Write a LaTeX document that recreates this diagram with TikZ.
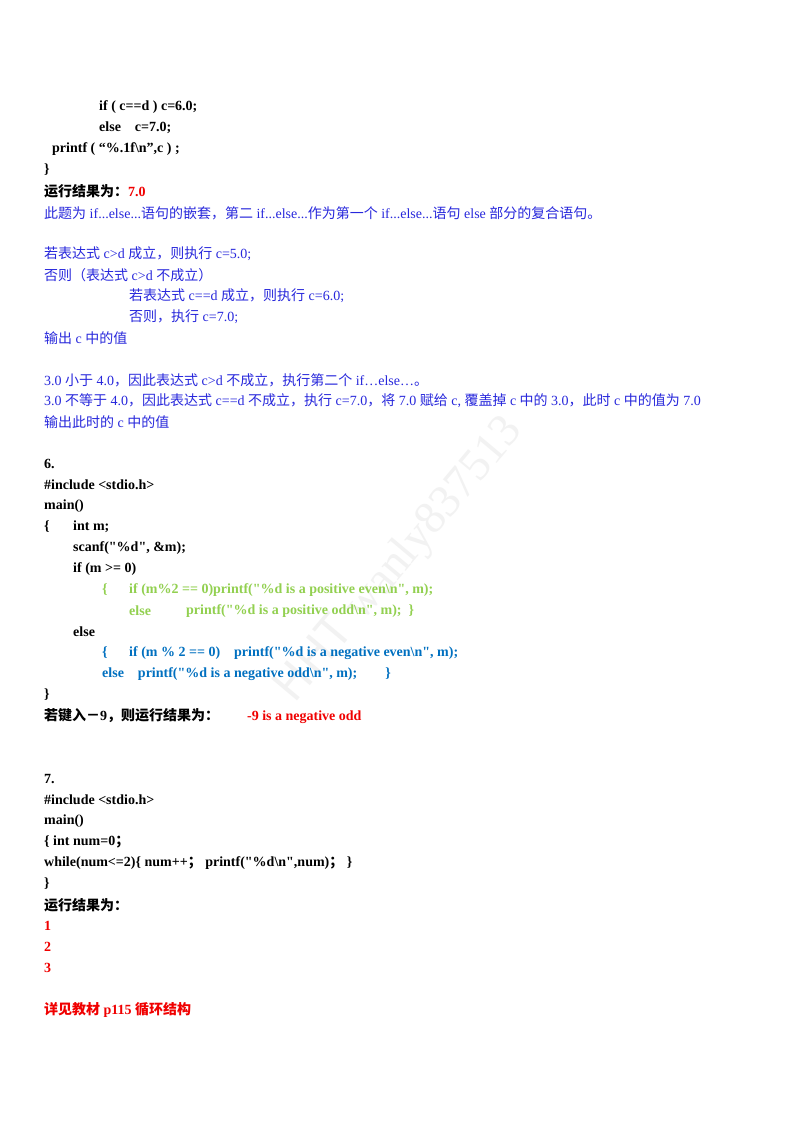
\documentclass[tikz,border=0pt]{standalone}
\usepackage{fontspec}
\setmainfont{Liberation Serif}
\newfontfamily\cjk{Noto Sans CJK SC}
\definecolor{tblue}{RGB}{40,40,220}
\definecolor{tgreen}{RGB}{146,208,80}
\definecolor{cblue}{RGB}{0,112,192}
\definecolor{tred}{RGB}{240,0,0}
\newcommand{\zh}[1]{{\cjk #1}}
\newcommand{\q}{\textquotedbl}
\begin{document}
\begin{tikzpicture}[x=1pt,y=-1pt,
  ln/.style={anchor=west,inner sep=0pt,font=\fontsize{14}{16}\selectfont\bfseries},
  bl/.style={anchor=west,inner sep=0pt,font=\fontsize{14}{16}\selectfont,text=tblue}]
\useasboundingbox (0,0) rectangle (800,1132);
\fill[white] (0,0) rectangle (800,1132);
\node[rotate=50,text=black!5,font=\fontsize{46}{50}\selectfont] (wm) at (400,560) {\zh{HHT} wanly837513};
\node[ln] (a1) at (99,107) {if ( c==d ) c=6.0;};
\node[ln] (a2) at (99,128) {else\quad c=7.0;};
\node[ln] (a3) at (52,149) {printf ( “\%.1f\textbackslash n”,c ) ;};
\node[ln] (a4) at (44,170) {\}};
\node[ln] (a5) at (44,191) {\zh{运行结果为：}\textcolor{tred}{7.0}};
\node[bl] (b1) at (44,213) {\zh{此题为} if...else...\zh{语句的嵌套，第二} if...else...\zh{作为第一个} if...else...\zh{语句} else \zh{部分的复合语句。}};
\node[bl] (b2) at (44,254) {\zh{若表达式} c>d \zh{成立，则执行} c=5.0;};
\node[bl] (b3) at (44,275) {\zh{否则（表达式} c>d \zh{不成立）}};
\node[bl] (b4) at (129,296) {\zh{若表达式} c==d \zh{成立，则执行} c=6.0;};
\node[bl] (b5) at (129,317) {\zh{否则，执行} c=7.0;};
\node[bl] (b6) at (44,338) {\zh{输出} c \zh{中的值}};
\node[bl] (b7) at (44,380) {3.0 \zh{小于} 4.0\zh{，因此表达式} c>d \zh{不成立，执行第二个} if…else…\zh{。}};
\node[bl] (b8) at (44,401) {3.0 \zh{不等于} 4.0\zh{，因此表达式} c==d \zh{不成立，执行} c=7.0\zh{，将} 7.0 \zh{赋给} c, \zh{覆盖掉} c \zh{中的} 3.0\zh{，此时} c \zh{中的值为} 7.0};
\node[bl] (b9) at (44,422) {\zh{输出此时的} c \zh{中的值}};
\node[ln] (c1) at (44,464) {6.};
\node[ln] (c2) at (44,485) {\#include <stdio.h>};
\node[ln] (c3) at (44,506) {main()};
\node[ln] (c4) at (44,527) {\{};
\node[ln] (c4b) at (73,527) {int m;};
\node[ln] (c5) at (73,548) {scanf(\q\%d\q, \&m);};
\node[ln] (c6) at (73,569) {if (m >= 0)};
\node[ln,text=tgreen] (c7) at (102,590) {\{};
\node[ln,text=tgreen] (c7b) at (129,590) {if (m\%2 == 0)printf(\q\%d is a positive even\textbackslash n\q, m);};
\node[ln,text=tgreen] (c8) at (129,611) {else};
\node[ln,text=tgreen] (c8b) at (186,611) {printf(\q\%d is a positive odd\textbackslash n\q, m);\ \ \}};
\node[ln] (c9) at (73,632) {else};
\node[ln,text=cblue] (c10) at (102,653) {\{};
\node[ln,text=cblue] (c10b) at (129,653) {if (m \% 2 == 0)\quad printf(\q\%d is a negative even\textbackslash n\q, m);};
\node[ln,text=cblue] (c11) at (102,674) {else\quad printf(\q\%d is a negative odd\textbackslash n\q, m);\qquad \}};
\node[ln] (c12) at (44,695) {\}};
\node[ln] (c13) at (44,716) {\zh{若键入－}9\zh{，则运行结果为：}\qquad\textcolor{tred}{-9 is a negative odd}};
\node[ln] (d1) at (44,779) {7.};
\node[ln] (d2) at (44,800) {\#include <stdio.h>};
\node[ln] (d3) at (44,821) {main()};
\node[ln] (d4) at (44,842) {\{ int num=0\zh{；}};
\node[ln] (d5) at (44,863) {while(num<=2)\{ num++\zh{；} printf(\q\%d\textbackslash n\q,num)\zh{；} \}};
\node[ln] (d6) at (44,884) {\}};
\node[ln] (d7) at (44,905) {\zh{运行结果为：}};
\node[ln,text=tred] (d8) at (44,926) {1};
\node[ln,text=tred] (d9) at (44,947) {2};
\node[ln,text=tred] (d10) at (44,968) {3};
\node[ln,text=tred] (d11) at (44,1010) {\zh{详见教材} p115 \zh{循环结构}};
\end{tikzpicture}
\end{document}
